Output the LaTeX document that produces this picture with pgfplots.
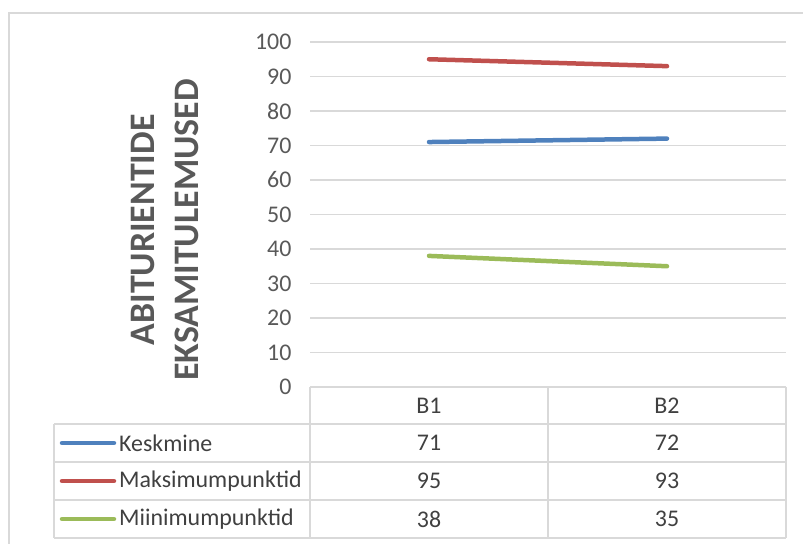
\documentclass[border=0pt]{standalone}
\usepackage{pgfplots}
\pgfplotsset{compat=1.18}
\usepackage{fontspec}
\setmainfont{Carlito}
\definecolor{gridgray}{HTML}{D9D9D9}
\definecolor{txtgray}{HTML}{595959}
\definecolor{tbltxt}{HTML}{404040}
\definecolor{sblue}{HTML}{4F81BD}
\definecolor{sred}{HTML}{C0504D}
\definecolor{sgreen}{HTML}{9BBB59}
\begin{document}
\begin{tikzpicture}
\useasboundingbox (0bp,0bp) rectangle (803bp,544bp);
\begin{axis}[
  at={(310bp,157bp)}, anchor=south west,
  scale only axis, width=476bp, height=345bp,
  xmin=-0.5, xmax=1.5, ymin=0, ymax=100,
  ytick={0,10,...,100}, xtick=\empty,
  ymajorgrids, grid style={draw=gridgray, line width=1.3bp},
  axis line style={draw=none}, tick style={draw=none},
  major tick length=0pt,
  /pgf/number format/assume math mode=true,
  yticklabel style={font=\fontsize{24}{24}\selectfont, text=txtgray, xshift=-15bp},
  clip=false,
]
\addplot[sblue, line width=4.5bp, line cap=round] coordinates {(0,71) (1,72)};
\addplot[sred, line width=4.5bp, line cap=round] coordinates {(0,95) (1,93)};
\addplot[sgreen, line width=4.5bp, line cap=round] coordinates {(0,38) (1,35)};
\end{axis}
% outer frame
\draw[gridgray, line width=1.5bp] (9bp,-20bp) -- (9bp,531bp) -- (830bp,531bp);
% data table
\begin{scope}[gridgray, line width=1.5bp]
\draw (310bp,157bp) -- (786bp,157bp);
\foreach \yy in {120,82,44,6} \draw (54bp,\yy bp) -- (786bp,\yy bp);
\draw (54bp,120bp) -- (54bp,6bp);
\foreach \xx in {310,548,786} \draw (\xx bp,157bp) -- (\xx bp,6bp);
\end{scope}
\begin{scope}[font=\fontsize{24}{24}\selectfont, text=tbltxt]
\node at (429bp,138.5bp) {B1};
\node at (667bp,138.5bp) {B2};
\node at (429bp,101bp) {71};
\node at (667bp,101bp) {72};
\node at (429bp,63bp) {95};
\node at (667bp,63bp) {93};
\node at (429bp,25bp) {38};
\node at (667bp,25bp) {35};
\draw[sblue, line width=4.5bp, line cap=round] (62bp,101bp) -- (114bp,101bp);
\draw[sred, line width=4.5bp, line cap=round] (62bp,63bp) -- (114bp,63bp);
\draw[sgreen, line width=4.5bp, line cap=round] (62bp,25bp) -- (114bp,25bp);
\node[anchor=west, inner sep=0pt] at (119bp,101bp) {Keskmine};
\node[anchor=west, inner sep=0pt] at (119bp,63bp) {Maksimumpunktid};
\node[anchor=west, inner sep=0pt] at (119bp,25bp) {Miinimumpunktid};
\end{scope}
% y axis title
\node[rotate=90, align=center, text=txtgray, font=\fontsize{36}{45}\selectfont\bfseries] at (165bp,314bp) {ABITURIENTIDE\\EKSAMITULEMUSED};
\end{tikzpicture}
\end{document}
